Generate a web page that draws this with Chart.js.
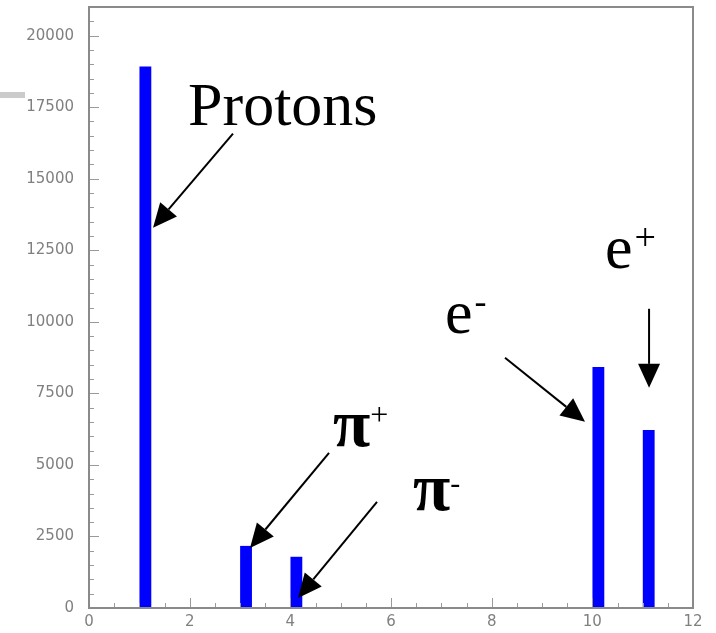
<!DOCTYPE html>
<html><head><meta charset="utf-8">
<script src="https://cdn.jsdelivr.net/npm/chart.js@4"></script>
<style>
html,body{margin:0;padding:0;background:#fff;}
#wrap{position:relative;width:716px;height:633px;}
#deco{position:absolute;left:0;top:92px;width:25px;height:6px;background:#cbcbcb;}
</style></head><body>
<div id="wrap"><canvas id="c" width="716" height="633"></canvas><div id="deco"></div></div>
<script>
// ---- data ----
const binCenters = [1.12, 3.12, 4.12, 7.12, 10.12, 11.12];
const counts     = [18920, 2170, 1790, 25, 8420, 6220];
const xMin = 0, xMax = 12, xMinorStep = 0.5, xMajorStep = 2;
const yMin = 0, yMax = 21000, yMinorStep = 500, yMajorStep = 2500;

// annotation labels (data coordinates)
const labelTexts  = ['Protons', 'π', 'π', 'e', 'e'];
const labelSups   = ['', '+', '-', '-', '+'];
const labelX      = [1.967, 4.848, 6.437, 7.073, 10.252];
const labelY      = [16888, 5664, 3427, 9615, 11888];
// arrows (data coordinates): from -> to
const arrowFromX = [2.861, 4.769, 5.722, 8.265, 11.127];
const arrowFromY = [16573, 5420, 3706, 8741, 10455];
const arrowToX   = [1.272, 3.199, 4.153, 9.855, 11.127];
const arrowToY   = [13287, 2098, 350, 6504, 7692];

const labelFont = ['62px "Liberation Serif"', 'bold 68px "Liberation Serif"', 'bold 68px "Liberation Serif"', '62px "Liberation Serif"', '62px "Liberation Serif"'];
const supFont   = ['', '32px "Liberation Serif"', '30px "Liberation Serif"', '36px "Liberation Serif"', '38px "Liberation Serif"'];
const supRaise  = [0, 21, 17, 20, 18];
const supGap    = [0, 0, 0, 2, 2];

const isMult = (v, s) => Math.abs(v / s - Math.round(v / s)) < 1e-6;

const framePlugin = {
  id: 'frameTicks',
  afterDatasetsDraw(chart) {
    const ctx = chart.ctx, a = chart.chartArea;
    const xs = chart.scales.x, ys = chart.scales.y;
    ctx.save();
    ctx.strokeStyle = '#9a9a9a';
    ctx.lineWidth = 1;
    ctx.beginPath();
    ys.ticks.forEach(t => {
      const py = Math.round(ys.getPixelForValue(t.value)) + 0.5;
      const len = isMult(t.value, yMajorStep) ? 10 : 5;
      ctx.moveTo(a.left, py); ctx.lineTo(a.left + len, py);
    });
    xs.ticks.forEach(t => {
      const px = Math.round(xs.getPixelForValue(t.value)) + 0.5;
      const len = isMult(t.value, xMajorStep) ? 10 : 5;
      ctx.moveTo(px, a.bottom); ctx.lineTo(px, a.bottom - len);
    });
    ctx.stroke();
    ctx.strokeStyle = '#8a8a8a';
    ctx.lineWidth = 2;
    ctx.strokeRect(a.left, a.top, a.right - a.left, a.bottom - a.top);
    ctx.restore();
  },
  afterDraw(chart) {
    const ctx = chart.ctx;
    const xs = chart.scales.x, ys = chart.scales.y;
    ctx.save();
    ctx.fillStyle = '#000';
    ctx.strokeStyle = '#000';
    ctx.textAlign = 'left';
    ctx.textBaseline = 'alphabetic';
    labelTexts.forEach((txt, i) => {
      const px = xs.getPixelForValue(labelX[i]);
      const py = ys.getPixelForValue(labelY[i]);
      ctx.font = labelFont[i];
      ctx.fillText(txt, px, py);
      if (labelSups[i]) {
        const w = ctx.measureText(txt).width;
        ctx.font = supFont[i];
        ctx.fillText(labelSups[i], px + w + supGap[i], py - supRaise[i]);
      }
    });
    arrowFromX.forEach((fx, i) => {
      const x1 = xs.getPixelForValue(fx), y1 = ys.getPixelForValue(arrowFromY[i]);
      const x2 = xs.getPixelForValue(arrowToX[i]), y2 = ys.getPixelForValue(arrowToY[i]);
      const ang = Math.atan2(y2 - y1, x2 - x1);
      const hl = 24, hw = 11;
      const bx = x2 - hl * Math.cos(ang), by = y2 - hl * Math.sin(ang);
      ctx.lineWidth = 2;
      ctx.beginPath();
      ctx.moveTo(x1, y1); ctx.lineTo(bx, by);
      ctx.stroke();
      ctx.beginPath();
      ctx.moveTo(x2, y2);
      ctx.lineTo(bx + hw * Math.sin(ang), by - hw * Math.cos(ang));
      ctx.lineTo(bx - hw * Math.sin(ang), by + hw * Math.cos(ang));
      ctx.closePath();
      ctx.fill();
    });
    ctx.restore();
  }
};

new Chart(document.getElementById('c'), {
  type: 'bar',
  data: {
    datasets: [{
      data: binCenters.map((x, i) => ({ x: x, y: counts[i] })),
      backgroundColor: '#0000ff',
      borderWidth: 0,
      barPercentage: 0.47,
      categoryPercentage: 1.0
    }]
  },
  options: {
    responsive: false,
    animation: false,
    devicePixelRatio: 1,
    layout: { autoPadding: false, padding: { top: 7, right: 23, left: 0, bottom: 0 } },
    plugins: { legend: { display: false }, tooltip: { enabled: false } },
    scales: {
      x: {
        type: 'linear', min: xMin, max: xMax, offset: false,
        grid: { display: false, drawTicks: false },
        border: { display: false },
        ticks: {
          stepSize: xMinorStep, autoSkip: false, maxRotation: 0,
          padding: 5, color: '#808080',
          font: { family: '"DejaVu Sans"', size: 15 },
          callback: v => isMult(v, xMajorStep) ? String(v) : ''
        },
        afterFit: s => { s.height = 25; s.paddingLeft = 0; s.paddingRight = 0; }
      },
      y: {
        type: 'linear', min: yMin, max: yMax,
        grid: { display: false, drawTicks: false },
        border: { display: false },
        ticks: {
          stepSize: yMinorStep, autoSkip: false,
          padding: 15, color: '#808080',
          font: { family: '"DejaVu Sans"', size: 15 },
          callback: v => isMult(v, yMajorStep) ? String(v) : ''
        },
        afterFit: s => { s.width = 89; s.paddingTop = 0; s.paddingBottom = 0; }
      }
    }
  },
  plugins: [framePlugin]
});
</script>
</body></html>
